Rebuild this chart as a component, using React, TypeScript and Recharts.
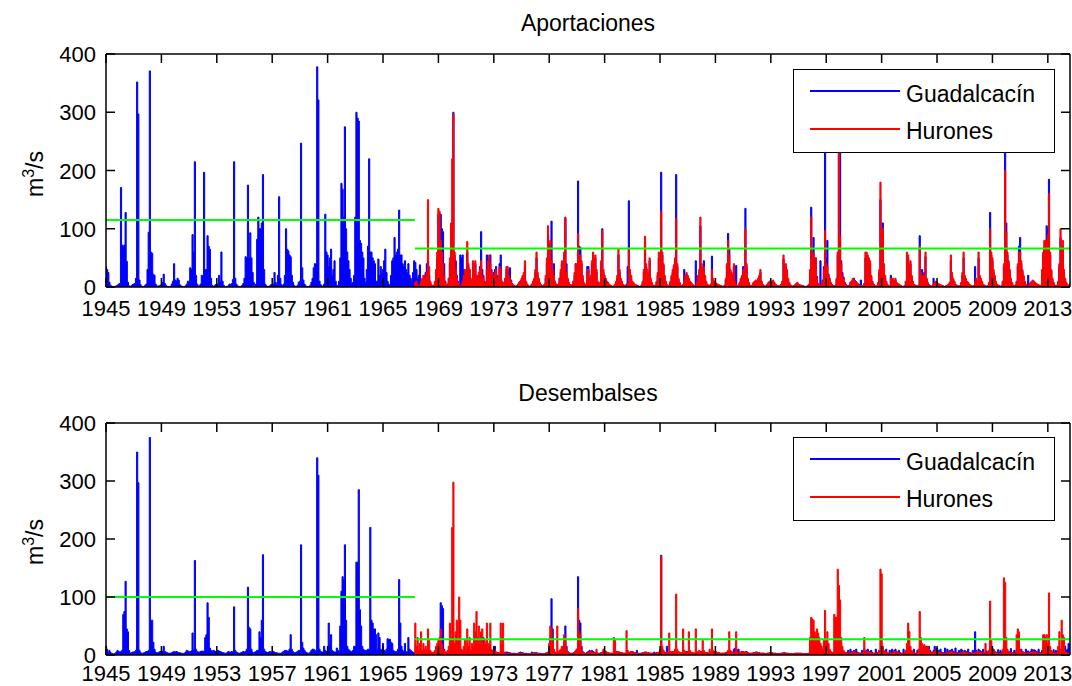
import React from 'react';
import { AreaChart, Area, XAxis, YAxis, ReferenceLine, Legend } from 'recharts';

// Monthly series, January 1945 onwards (one row per year, Jan..Dec).
const FIRST_YEAR = 1945;
// Hurones records begin in April 1967 (month 267 counted from Jan 1945).
const HURONES_FIRST_MONTH = 267;

const YEAR_TICKS = [1945, 1949, 1953, 1957, 1961, 1965, 1969, 1973, 1977, 1981, 1985, 1989, 1993, 1997, 2001, 2005, 2009, 2013];
const FLOW_TICKS = [0, 100, 200, 300, 400];
const X_MIN = 1945;
const X_MAX = 2014.6;

// Mean levels before and after Hurones came into service
const MEAN_SPLIT_YEAR = 1967.3;
const APORT_MEAN_BEFORE = 115;
const APORT_MEAN_AFTER = 66;
const DESEMB_MEAN_BEFORE = 100;
const DESEMB_MEAN_AFTER = 27;

// Aportaciones, Guadalcacín (m3/s)
const guadalcacinAport: number[] = [
  [35, 30, 25, 8, 3, 1, 1, 0, 1, 2, 3, 5], // 1945
  [6, 171, 72, 70, 72, 128, 44, 8, 2, 1, 2, 4],
  [5, 6, 15, 352, 297, 12, 4, 1, 1, 1, 3, 5],
  [30, 94, 371, 60, 58, 22, 20, 5, 2, 1, 2, 3],
  [4, 8, 22, 6, 3, 1, 1, 0, 1, 5, 10, 40],
  [12, 10, 15, 12, 4, 2, 1, 0, 1, 2, 5, 10], // 1950
  [10, 33, 30, 90, 60, 215, 20, 5, 2, 2, 5, 20],
  [20, 197, 30, 30, 88, 70, 65, 15, 3, 1, 2, 4],
  [3, 5, 20, 10, 60, 10, 3, 1, 0, 1, 2, 5],
  [4, 6, 13, 215, 15, 5, 2, 1, 0, 1, 3, 6],
  [15, 52, 50, 175, 50, 93, 50, 25, 8, 2, 5, 82], // 1955
  [120, 100, 100, 110, 193, 30, 5, 2, 1, 1, 2, 4],
  [3, 5, 25, 8, 4, 20, 155, 15, 4, 2, 5, 20],
  [100, 65, 62, 55, 52, 20, 8, 3, 1, 1, 3, 8],
  [10, 247, 33, 12, 5, 2, 1, 0, 1, 3, 8, 15],
  [33, 40, 40, 378, 321, 10, 4, 2, 1, 5, 125, 60], // 1960
  [55, 35, 50, 65, 20, 30, 45, 10, 3, 2, 10, 50],
  [178, 168, 120, 275, 100, 60, 45, 30, 15, 5, 8, 20],
  [120, 300, 290, 285, 80, 75, 60, 50, 15, 8, 30, 70],
  [220, 60, 60, 50, 45, 40, 10, 10, 48, 20, 35, 25],
  [30, 45, 65, 25, 10, 5, 3, 20, 45, 50, 85, 55], // 1965
  [60, 65, 132, 55, 55, 40, 35, 45, 30, 25, 40, 20],
  [15, 10, 25, 45, 42, 30, 15, 20, 38, 10, 8, 12],
  [20, 25, 40, 45, 20, 8, 3, 1, 2, 8, 25, 50],
  [125, 120, 125, 100, 95, 40, 10, 3, 5, 15, 40, 90],
  [75, 300, 55, 45, 20, 10, 4, 55, 50, 55, 30, 25], // 1970
  [25, 60, 35, 30, 12, 5, 40, 35, 40, 20, 15, 20],
  [35, 95, 30, 20, 10, 6, 55, 50, 50, 55, 30, 15],
  [25, 30, 35, 20, 12, 40, 55, 10, 5, 8, 15, 30],
  [30, 25, 33, 12, 6, 3, 2, 1, 2, 5, 8, 10],
  [12, 18, 20, 35, 8, 4, 2, 1, 2, 5, 10, 12], // 1975
  [25, 50, 20, 12, 6, 3, 2, 2, 5, 15, 40, 90],
  [55, 75, 113, 30, 40, 10, 5, 3, 5, 15, 25, 40],
  [35, 55, 118, 40, 14, 8, 4, 2, 4, 10, 20, 40],
  [30, 182, 70, 68, 40, 15, 6, 3, 5, 35, 35, 15],
  [15, 40, 55, 45, 50, 25, 8, 4, 6, 40, 100, 25], // 1980
  [15, 12, 8, 6, 4, 2, 1, 1, 1, 4, 8, 15],
  [55, 25, 12, 8, 4, 2, 1, 5, 35, 148, 25, 15],
  [8, 6, 4, 3, 2, 2, 1, 1, 3, 8, 25, 75],
  [35, 25, 20, 45, 12, 6, 3, 2, 3, 8, 20, 50],
  [40, 197, 55, 38, 18, 8, 3, 2, 3, 8, 18, 25], // 1985
  [35, 45, 193, 35, 13, 7, 3, 2, 4, 30, 18, 22],
  [18, 13, 9, 7, 4, 3, 2, 45, 8, 18, 25, 105],
  [35, 20, 45, 18, 8, 4, 3, 2, 5, 53, 12, 8],
  [7, 5, 4, 3, 2, 2, 1, 1, 3, 12, 35, 92],
  [65, 28, 22, 18, 35, 10, 37, 2, 3, 7, 13, 18], // 1990
  [35, 22, 135, 35, 13, 7, 3, 2, 3, 7, 9, 10],
  [9, 13, 18, 25, 9, 4, 2, 1, 2, 4, 7, 9],
  [7, 9, 10, 7, 4, 3, 2, 1, 2, 4, 9, 48],
  [35, 35, 25, 13, 7, 3, 2, 1, 2, 3, 5, 7],
  [4, 3, 3, 2, 2, 1, 1, 1, 2, 4, 25, 137], // 1995
  [60, 85, 45, 50, 18, 6, 3, 45, 5, 12, 35, 300],
  [50, 80, 22, 14, 7, 4, 2, 1, 3, 13, 55, 300],
  [250, 45, 25, 17, 8, 5, 2, 1, 3, 8, 10, 12],
  [15, 11, 9, 7, 5, 3, 12, 1, 2, 6, 50, 55],
  [50, 45, 40, 18, 9, 5, 2, 1, 2, 7, 25, 150], // 2000
  [90, 110, 35, 18, 9, 4, 2, 1, 20, 12, 12, 9],
  [12, 7, 5, 4, 3, 2, 1, 1, 2, 9, 50, 48],
  [35, 40, 18, 9, 4, 3, 2, 1, 3, 88, 20, 30],
  [13, 25, 52, 13, 7, 4, 2, 1, 2, 15, 7, 9],
  [7, 5, 4, 3, 3, 2, 1, 1, 2, 3, 4, 7], // 2005
  [45, 20, 13, 9, 4, 3, 2, 1, 2, 7, 20, 50],
  [18, 13, 9, 7, 4, 3, 2, 1, 2, 35, 12, 9],
  [50, 18, 13, 9, 4, 3, 2, 1, 2, 7, 128, 55],
  [45, 25, 18, 9, 4, 3, 2, 1, 2, 9, 35, 300],
  [110, 55, 40, 27, 13, 7, 3, 2, 3, 9, 35, 70], // 2010
  [85, 40, 27, 18, 9, 4, 2, 20, 3, 7, 9, 10],
  [9, 7, 5, 4, 3, 2, 2, 25, 55, 70, 75, 105],
  [100, 185, 55, 28, 13, 7, 3, 2, 3, 9, 35, 85],
  [50, 70, 25, 13, 7, 4, 2, 5], // 2014 (Jan-Aug)
].flat();

// Aportaciones, Hurones (m3/s), from April 1967
const huronesAport: number[] = [
  [5, 8, 10, 3, 2, 3, 10, 15, 20], // 1967 Apr-Dec
  [15, 20, 25, 150, 35, 10, 4, 2, 3, 10, 30, 60],
  [135, 130, 80, 60, 40, 20, 8, 3, 5, 15, 50, 110],
  [220, 297, 60, 30, 15, 8, 3, 2, 3, 10, 20, 30], // 1970
  [30, 78, 40, 30, 15, 8, 45, 40, 45, 20, 15, 25],
  [30, 45, 20, 15, 8, 5, 30, 45, 55, 40, 25, 15],
  [20, 25, 30, 15, 10, 35, 30, 10, 5, 8, 15, 35],
  [35, 20, 15, 10, 5, 3, 2, 1, 2, 5, 8, 10],
  [15, 20, 25, 45, 10, 5, 2, 1, 2, 5, 10, 15], // 1975
  [30, 60, 25, 15, 8, 4, 2, 2, 5, 20, 50, 105],
  [60, 80, 45, 30, 20, 10, 5, 3, 5, 15, 30, 45],
  [40, 60, 120, 25, 15, 8, 4, 2, 4, 10, 25, 40],
  [40, 92, 55, 55, 45, 20, 8, 3, 5, 30, 30, 10],
  [20, 45, 60, 50, 55, 30, 10, 5, 8, 45, 97, 30], // 1980
  [20, 15, 10, 8, 5, 3, 2, 1, 2, 5, 10, 20],
  [65, 30, 15, 10, 5, 3, 2, 1, 5, 68, 30, 20],
  [10, 8, 5, 4, 3, 2, 1, 1, 3, 10, 30, 87],
  [40, 30, 25, 50, 15, 8, 3, 2, 3, 10, 25, 60],
  [45, 130, 60, 40, 20, 10, 4, 2, 3, 10, 20, 30], // 1985
  [38, 50, 118, 40, 15, 8, 3, 2, 4, 10, 20, 25],
  [20, 15, 10, 8, 5, 3, 2, 3, 10, 20, 30, 120],
  [40, 25, 35, 20, 10, 5, 3, 2, 5, 30, 15, 10],
  [8, 6, 5, 4, 3, 2, 1, 1, 3, 15, 40, 80],
  [55, 30, 25, 20, 40, 10, 4, 2, 3, 8, 15, 20], // 1990
  [30, 25, 100, 40, 15, 8, 3, 2, 3, 8, 10, 12],
  [10, 15, 20, 30, 10, 5, 2, 1, 2, 5, 8, 10],
  [8, 10, 12, 8, 5, 3, 2, 1, 2, 5, 10, 55],
  [40, 40, 30, 15, 8, 4, 2, 1, 2, 4, 6, 8],
  [5, 4, 3, 3, 2, 1, 1, 1, 2, 5, 30, 120], // 1995
  [50, 60, 40, 50, 15, 5, 3, 2, 4, 10, 30, 97],
  [40, 35, 20, 15, 8, 4, 2, 1, 3, 15, 60, 280],
  [87, 40, 20, 15, 8, 4, 2, 1, 3, 8, 10, 15],
  [12, 10, 8, 6, 4, 3, 2, 1, 2, 5, 60, 60],
  [55, 50, 45, 20, 10, 5, 2, 1, 2, 8, 30, 180], // 2000
  [100, 100, 40, 20, 10, 5, 2, 1, 15, 15, 15, 10],
  [15, 8, 6, 5, 3, 2, 1, 1, 2, 10, 60, 55],
  [40, 45, 20, 10, 5, 3, 2, 1, 3, 70, 25, 20],
  [15, 20, 60, 15, 8, 4, 2, 1, 2, 5, 8, 10],
  [8, 6, 5, 4, 3, 2, 1, 1, 2, 3, 5, 8], // 2005
  [55, 25, 15, 10, 5, 3, 2, 1, 2, 8, 25, 60],
  [20, 15, 10, 8, 5, 3, 2, 1, 2, 8, 15, 10],
  [60, 20, 15, 10, 5, 3, 2, 1, 2, 8, 100, 60],
  [50, 30, 20, 10, 5, 3, 2, 1, 2, 10, 40, 200],
  [94, 60, 45, 30, 15, 8, 3, 2, 3, 10, 40, 60], // 2010
  [60, 45, 30, 20, 10, 5, 2, 1, 3, 8, 10, 12],
  [10, 8, 6, 5, 4, 3, 2, 30, 60, 80, 80, 80],
  [90, 160, 60, 30, 15, 8, 3, 2, 3, 10, 40, 100],
  [60, 80, 30, 15, 8, 4, 2, 1], // 2014 (Jan-Aug)
].flat();

// Desembalses, Guadalcacín (m3/s)
const guadalcacinDesemb: number[] = [
  [15, 10, 5, 8, 4, 3, 2, 2, 3, 5, 8, 6], // 1945
  [5, 6, 8, 70, 75, 127, 45, 40, 8, 3, 4, 5],
  [5, 6, 8, 350, 297, 8, 4, 3, 3, 4, 5, 6],
  [6, 8, 375, 60, 60, 22, 10, 5, 4, 4, 5, 6],
  [5, 6, 15, 6, 5, 4, 3, 3, 3, 4, 5, 6],
  [5, 6, 5, 4, 4, 3, 3, 2, 3, 5, 8, 7], // 1950
  [6, 6, 7, 38, 10, 163, 10, 6, 5, 5, 6, 7],
  [6, 7, 30, 35, 90, 65, 12, 8, 6, 8, 7, 6],
  [6, 8, 7, 6, 5, 4, 4, 3, 3, 4, 6, 5],
  [5, 6, 5, 83, 8, 5, 4, 3, 3, 4, 5, 6],
  [5, 6, 10, 117, 48, 45, 10, 5, 4, 5, 6, 8], // 1955
  [8, 40, 30, 60, 173, 10, 6, 5, 4, 5, 6, 5],
  [5, 6, 5, 4, 4, 3, 3, 3, 3, 5, 6, 8],
  [8, 7, 6, 10, 35, 10, 6, 4, 4, 5, 6, 8],
  [8, 190, 22, 12, 8, 5, 4, 3, 3, 5, 8, 10],
  [10, 8, 6, 340, 310, 10, 6, 5, 5, 15, 8, 6], // 1960
  [6, 55, 20, 35, 8, 6, 5, 5, 12, 8, 6, 50],
  [110, 135, 130, 190, 60, 15, 10, 8, 6, 6, 8, 15],
  [15, 160, 160, 285, 78, 50, 15, 10, 8, 8, 8, 10],
  [10, 220, 60, 55, 45, 45, 35, 10, 38, 30, 10, 8],
  [20, 8, 6, 10, 28, 27, 27, 22, 20, 8, 6, 6], // 1965
  [6, 10, 130, 55, 15, 8, 6, 20, 6, 5, 30, 10],
  [8, 6, 5, 4, 4, 3, 3, 3, 3, 4, 4, 5],
  [5, 6, 5, 4, 4, 3, 3, 3, 3, 4, 5, 6],
  [6, 10, 90, 85, 80, 10, 5, 4, 4, 5, 6, 8],
  [8, 10, 6, 5, 4, 4, 3, 3, 3, 4, 5, 6], // 1970
  [6, 5, 5, 4, 4, 3, 3, 3, 3, 4, 5, 6],
  [6, 6, 5, 30, 5, 4, 3, 3, 3, 4, 5, 6],
  [6, 15, 5, 4, 4, 3, 3, 3, 3, 4, 5, 5],
  [5, 4, 4, 3, 3, 3, 3, 2, 2, 3, 4, 5],
  [4, 4, 3, 3, 3, 2, 2, 2, 2, 5, 4, 4], // 1975
  [4, 4, 3, 3, 3, 2, 2, 2, 2, 3, 4, 5],
  [10, 30, 97, 45, 8, 5, 3, 3, 3, 4, 6, 8],
  [10, 20, 50, 15, 6, 4, 3, 3, 3, 4, 5, 6],
  [10, 135, 60, 55, 15, 6, 4, 3, 3, 5, 6, 8],
  [6, 8, 6, 5, 4, 3, 3, 3, 3, 4, 5, 6], // 1980
  [6, 5, 4, 4, 3, 3, 3, 2, 3, 4, 5, 6],
  [5, 5, 4, 4, 3, 3, 3, 3, 3, 4, 5, 6],
  [6, 5, 4, 4, 8, 3, 3, 3, 3, 4, 4, 5],
  [5, 4, 4, 3, 3, 3, 3, 5, 3, 4, 4, 5],
  [5, 172, 10, 6, 5, 4, 15, 4, 3, 4, 5, 6], // 1985
  [5, 6, 8, 5, 5, 4, 3, 3, 3, 4, 5, 6],
  [6, 5, 5, 4, 4, 3, 3, 3, 3, 4, 5, 6],
  [6, 5, 5, 4, 4, 3, 3, 3, 3, 4, 5, 6],
  [5, 5, 4, 4, 3, 3, 3, 3, 3, 4, 5, 6],
  [6, 5, 5, 4, 10, 12, 10, 8, 10, 5, 5, 6], // 1990
  [6, 5, 5, 6, 4, 3, 3, 3, 3, 4, 4, 5],
  [5, 4, 4, 3, 3, 3, 3, 2, 2, 3, 3, 4],
  [4, 4, 3, 3, 3, 2, 2, 2, 2, 3, 3, 4],
  [4, 3, 3, 3, 2, 2, 2, 2, 2, 3, 3, 3],
  [3, 3, 3, 2, 2, 2, 2, 2, 2, 3, 3, 3], // 1995
  [3, 3, 3, 3, 2, 2, 2, 2, 2, 3, 3, 3],
  [5, 6, 5, 4, 4, 3, 3, 3, 3, 4, 5, 6],
  [6, 8, 7, 6, 5, 4, 3, 8, 3, 10, 6, 5],
  [8, 6, 10, 5, 4, 3, 3, 8, 3, 10, 5, 8],
  [10, 6, 5, 8, 4, 3, 3, 10, 3, 5, 8, 6], // 2000
  [8, 10, 6, 5, 10, 3, 3, 8, 3, 10, 6, 8],
  [10, 6, 5, 8, 4, 3, 3, 10, 3, 6, 8, 6],
  [8, 6, 5, 4, 10, 3, 3, 8, 3, 10, 6, 5],
  [10, 15, 12, 15, 10, 15, 8, 5, 4, 8, 15, 10],
  [12, 8, 6, 10, 5, 4, 4, 12, 4, 10, 6, 8], // 2005
  [8, 10, 6, 5, 12, 4, 4, 8, 4, 10, 8, 6],
  [8, 6, 5, 10, 4, 4, 3, 8, 3, 40, 8, 6],
  [10, 8, 6, 5, 10, 4, 4, 7, 4, 6, 11, 8],
  [7, 10, 6, 5, 4, 9, 4, 8, 4, 6, 10, 9],
  [10, 8, 6, 5, 11, 4, 4, 8, 4, 9, 6, 8], // 2010
  [8, 10, 6, 5, 4, 10, 4, 7, 4, 6, 10, 8],
  [9, 8, 6, 5, 10, 4, 4, 8, 4, 6, 11, 8],
  [8, 10, 6, 5, 4, 9, 4, 8, 4, 6, 10, 8],
  [10, 8, 6, 15, 8, 10, 20, 20], // 2014 (Jan-Aug)
].flat();

// Desembalses, Hurones (m3/s), from April 1967
const huronesDesemb: number[] = [
  [5, 55, 15, 30, 10, 20, 40, 8, 20], // 1967 Apr-Dec
  [10, 15, 10, 45, 25, 8, 5, 4, 5, 8, 15, 20],
  [25, 30, 45, 20, 10, 8, 5, 5, 8, 15, 55, 30],
  [220, 298, 20, 40, 60, 30, 100, 60, 10, 8, 15, 25], // 1970
  [10, 45, 15, 30, 10, 20, 15, 55, 40, 75, 30, 50],
  [20, 40, 45, 15, 25, 20, 55, 15, 20, 55, 10, 8],
  [6, 8, 5, 4, 4, 3, 55, 20, 55, 5, 3, 3],
  [3, 3, 2, 2, 2, 2, 2, 2, 2, 2, 3, 3],
  [3, 3, 2, 2, 2, 2, 2, 2, 2, 2, 3, 3], // 1975
  [3, 3, 3, 2, 2, 2, 2, 2, 2, 3, 3, 5],
  [20, 50, 45, 25, 10, 5, 3, 50, 5, 8, 10, 15],
  [15, 35, 30, 10, 5, 3, 3, 2, 2, 3, 5, 8],
  [10, 80, 40, 35, 10, 5, 3, 2, 2, 3, 5, 6],
  [6, 5, 4, 4, 4, 10, 3, 2, 2, 3, 4, 10], // 1980
  [8, 6, 5, 4, 3, 3, 3, 3, 30, 25, 5, 6],
  [5, 5, 4, 4, 3, 3, 3, 42, 8, 4, 5, 6],
  [5, 4, 4, 3, 3, 3, 2, 2, 2, 3, 4, 5],
  [5, 4, 4, 3, 3, 3, 2, 2, 2, 3, 4, 5],
  [8, 170, 15, 8, 5, 4, 4, 4, 38, 6, 5, 6], // 1985
  [6, 10, 105, 10, 6, 5, 4, 4, 45, 8, 6, 5],
  [5, 40, 8, 5, 4, 4, 3, 45, 5, 6, 8, 6],
  [6, 25, 8, 5, 4, 4, 3, 10, 5, 45, 8, 6],
  [6, 5, 4, 4, 3, 3, 3, 3, 3, 4, 5, 8],
  [40, 8, 6, 5, 4, 4, 40, 5, 4, 4, 5, 6], // 1990
  [6, 5, 5, 4, 4, 3, 3, 3, 3, 3, 4, 5],
  [4, 4, 3, 3, 3, 3, 3, 2, 2, 3, 3, 4],
  [4, 3, 3, 3, 3, 2, 2, 2, 2, 3, 3, 4],
  [3, 3, 3, 3, 2, 2, 2, 2, 2, 3, 3, 3],
  [3, 3, 3, 3, 2, 2, 2, 2, 2, 3, 30, 65], // 1995
  [62, 60, 40, 35, 45, 38, 30, 20, 15, 10, 25, 77],
  [25, 40, 20, 10, 6, 5, 4, 70, 65, 65, 148, 120],
  [95, 30, 15, 8, 5, 4, 3, 3, 3, 4, 5, 6],
  [6, 5, 4, 4, 3, 3, 3, 3, 3, 30, 5, 6],
  [6, 5, 5, 4, 3, 3, 3, 3, 3, 4, 8, 148], // 2000
  [140, 15, 8, 6, 5, 4, 3, 3, 3, 4, 5, 6],
  [6, 5, 4, 4, 3, 3, 3, 3, 3, 8, 20, 55],
  [40, 15, 8, 5, 4, 3, 3, 3, 10, 75, 30, 20],
  [15, 18, 15, 12, 15, 10, 5, 4, 4, 5, 6, 8],
  [6, 5, 4, 4, 3, 3, 3, 3, 3, 4, 5, 6], // 2005
  [6, 5, 4, 4, 3, 3, 3, 3, 3, 4, 5, 6],
  [5, 4, 4, 3, 3, 3, 3, 3, 3, 4, 5, 6],
  [6, 5, 4, 4, 3, 3, 20, 4, 3, 8, 93, 25],
  [10, 6, 5, 4, 3, 3, 3, 3, 3, 10, 133, 125],
  [30, 10, 6, 5, 4, 3, 3, 3, 3, 35, 45, 40], // 2010
  [10, 6, 5, 4, 4, 3, 3, 3, 3, 4, 5, 6],
  [6, 5, 4, 4, 3, 3, 3, 3, 35, 35, 30, 35],
  [20, 107, 15, 8, 5, 4, 3, 3, 3, 15, 40, 10],
  [60, 35, 30, 5, 4, 3, 3, 3], // 2014 (Jan-Aug)
].flat();

// Layout
const WIDTH = 1072;
const Y_AXIS_W = 60;
const X_AXIS_H = 30;
const PLOT_LEFT = 106;
const MARGIN_RIGHT = 2;
const FONT = '"Liberation Sans", Arial, Helvetica, sans-serif';
const FONT_SIZE = 23;
const TICK_FONT_SIZE = 22;
const TICK_LEN = 9;
const BLUE = '#0000ff';
const RED = '#ff0000';
const GREEN = '#00ff00';

type Row = { year: number; guadalcacin: number; hurones: number | null };

function buildRows(g: number[], h: number[]): Row[] {
  return g.map((v, i) => ({
    year: FIRST_YEAR + i / 12,
    guadalcacin: v,
    hurones: i >= HURONES_FIRST_MONTH ? h[i - HURONES_FIRST_MONTH] ?? null : null,
  }));
}

const aportRows = buildRows(guadalcacinAport, huronesAport);
const desembRows = buildRows(guadalcacinDesemb, huronesDesemb);

// Bottom axis tick: inward tick at bottom and top edge, label below
function XTick(props: any) {
  const { x, y, payload, plotH, labelDy } = props;
  return (
    <g>
      <line x1={x} y1={y} x2={x} y2={y - TICK_LEN} stroke="#000" strokeWidth={1.5} />
      <line x1={x} y1={y - plotH} x2={x} y2={y - plotH + TICK_LEN} stroke="#000" strokeWidth={1.5} />
      <text x={x} y={y + labelDy} textAnchor="middle" fontSize={TICK_FONT_SIZE} fontFamily={FONT} fill="#000">
        {payload.value}
      </text>
    </g>
  );
}

// Left axis tick: inward tick at left and right edge, label on the left
function YTick(props: any) {
  const { x, y, payload, plotW } = props;
  return (
    <g>
      <line x1={x} y1={y} x2={x + TICK_LEN} y2={y} stroke="#000" strokeWidth={1.5} />
      <line x1={x + plotW} y1={y} x2={x + plotW - TICK_LEN} y2={y} stroke="#000" strokeWidth={1.5} />
      <text x={x - 10} y={y + 8} textAnchor="end" fontSize={TICK_FONT_SIZE} fontFamily={FONT} fill="#000">
        {payload.value}
      </text>
    </g>
  );
}

function LegendBox(props: any) {
  const items = (props.payload || []) as any[];
  return (
    <div
      style={{
        position: 'relative',
        width: 262,
        height: 84,
        boxSizing: 'border-box',
        border: '1.5px solid #000',
        background: '#fff',
        fontFamily: FONT,
        fontSize: FONT_SIZE,
        color: '#000',
      }}
    >
      {items.map((item, i) => (
        <div key={String(item.value)}>
          <div
            style={{
              position: 'absolute',
              left: 16,
              top: 20 + i * 37.5,
              width: 90,
              height: 2,
              background: item.color,
            }}
          />
          <div
            style={{
              position: 'absolute',
              left: 112,
              top: 21 + i * 37.5 + 11 - 19.5,
              lineHeight: '23px',
              whiteSpace: 'nowrap',
            }}
          >
            {item.value}
          </div>
        </div>
      ))}
    </div>
  );
}

type PanelProps = {
  top: number;
  height: number;
  plotTop: number;
  plotBottom: number;
  labelDy: number;
  legendTop: number;
  title: string;
  rows: Row[];
  meanBefore: number;
  meanAfter: number;
};

function Panel({ top, height, plotTop, plotBottom, labelDy, legendTop, title, rows, meanBefore, meanAfter }: PanelProps) {
  const plotH = plotBottom - plotTop;
  const plotW = WIDTH - PLOT_LEFT - MARGIN_RIGHT;
  return (
    <div style={{ position: 'absolute', left: 0, top, width: WIDTH, height }}>
      <div
        style={{
          position: 'absolute',
          left: PLOT_LEFT,
          width: plotW,
          top: 12,
          textAlign: 'center',
          fontFamily: FONT,
          fontSize: FONT_SIZE,
          lineHeight: '23px',
          color: '#000',
        }}
      >
        {title}
      </div>
      <div
        style={{
          position: 'absolute',
          left: 29 - 50,
          top: plotTop + plotH / 2 + 3 - 12,
          width: 100,
          height: 24,
          lineHeight: '24px',
          textAlign: 'center',
          transform: 'rotate(-90deg)',
          fontFamily: FONT,
          fontSize: FONT_SIZE,
          color: '#000',
        }}
      >
        m<sup style={{ fontSize: 16, verticalAlign: 9 }}>3</sup>/s
      </div>
      <AreaChart
        width={WIDTH}
        height={height}
        data={rows}
        margin={{
          top: plotTop,
          right: MARGIN_RIGHT,
          bottom: height - plotBottom - X_AXIS_H,
          left: PLOT_LEFT - Y_AXIS_W,
        }}
      >
        <XAxis
          dataKey="year"
          type="number"
          domain={[X_MIN, X_MAX]}
          ticks={YEAR_TICKS}
          interval={0}
          height={X_AXIS_H}
          tickSize={0}
          tickMargin={0}
          tickLine={false}
          tick={(p: any) => <XTick {...p} plotH={plotH} labelDy={labelDy} />}
          axisLine={{ stroke: '#000', strokeWidth: 1.5 }}
          allowDataOverflow
        />
        <YAxis
          type="number"
          domain={[0, 400]}
          ticks={FLOW_TICKS}
          interval={0}
          width={Y_AXIS_W}
          tickSize={0}
          tickMargin={0}
          tickLine={false}
          tick={(p: any) => <YTick {...p} plotW={plotW} />}
          axisLine={{ stroke: '#000', strokeWidth: 1.5 }}
          allowDataOverflow
        />
        <Area
          dataKey="guadalcacin"
          name="Guadalcacín"
          type="step"
          stroke={BLUE}
          strokeWidth={1}
          fill={BLUE}
          fillOpacity={1}
          dot={false}
          activeDot={false}
          isAnimationActive={false}
        />
        <Area
          dataKey="hurones"
          name="Hurones"
          type="step"
          stroke={RED}
          strokeWidth={1}
          fill={RED}
          fillOpacity={1}
          dot={false}
          activeDot={false}
          connectNulls={false}
          isAnimationActive={false}
        />
        <ReferenceLine
          segment={[{ x: X_MIN, y: meanBefore }, { x: MEAN_SPLIT_YEAR, y: meanBefore }]}
          stroke={GREEN}
          strokeWidth={2}
          ifOverflow="visible"
        />
        <ReferenceLine
          segment={[{ x: MEAN_SPLIT_YEAR, y: meanAfter }, { x: X_MAX, y: meanAfter }]}
          stroke={GREEN}
          strokeWidth={2}
          ifOverflow="visible"
        />
        <ReferenceLine y={400} stroke="#000" strokeWidth={1.5} ifOverflow="visible" />
        <ReferenceLine x={X_MAX} stroke="#000" strokeWidth={1.5} ifOverflow="visible" />
        <Legend
          layout="horizontal"
          verticalAlign="middle"
          align="center"
          content={(p: any) => <LegendBox payload={p.payload} />}
          wrapperStyle={{ position: 'absolute', left: 793, top: legendTop, width: 262, height: 84 }}
        />
      </AreaChart>
    </div>
  );
}

export default function App() {
  return (
    <div style={{ position: 'absolute', left: 0, top: 0, width: WIDTH, height: 686, background: '#fff' }}>
      <Panel
        top={0}
        height={330}
        plotTop={54}
        plotBottom={287}
        labelDy={29}
        legendTop={69}
        title="Aportaciones"
        rows={aportRows}
        meanBefore={APORT_MEAN_BEFORE}
        meanAfter={APORT_MEAN_AFTER}
      />
      <Panel
        top={370}
        height={316}
        plotTop={53}
        plotBottom={285}
        labelDy={26}
        legendTop={67}
        title="Desembalses"
        rows={desembRows}
        meanBefore={DESEMB_MEAN_BEFORE}
        meanAfter={DESEMB_MEAN_AFTER}
      />
    </div>
  );
}
